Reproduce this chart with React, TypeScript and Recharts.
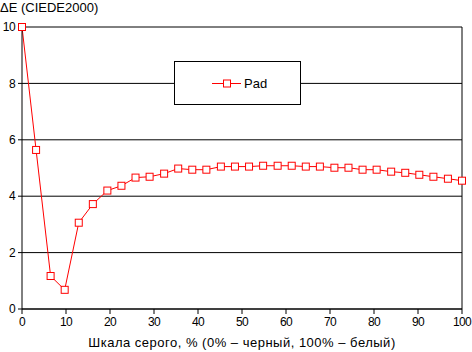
import React from "react";
import {
  LineChart,
  Line,
  XAxis,
  YAxis,
  CartesianGrid,
  ReferenceLine,
} from "recharts";

const grayLevels = [
  0, 3.2, 6.5, 9.7, 12.9, 16.1, 19.4, 22.6, 25.8, 29.0, 32.3, 35.5, 38.7, 41.9,
  45.2, 48.4, 51.6, 54.8, 58.1, 61.3, 64.5, 67.7, 71.0, 74.2, 77.4, 80.6, 83.9,
  87.1, 90.3, 93.5, 96.8, 100,
];

const padDeltaE = [
  10.0, 5.64, 1.17, 0.68, 3.06, 3.72, 4.2, 4.37, 4.66, 4.69, 4.8, 4.98, 4.94,
  4.94, 5.05, 5.05, 5.05, 5.08, 5.08, 5.08, 5.05, 5.05, 5.01, 5.01, 4.94, 4.94,
  4.87, 4.83, 4.76, 4.69, 4.62, 4.55,
];

const xTicks = [0, 10, 20, 30, 40, 50, 60, 70, 80, 90, 100];
const yTicks = [0, 2, 4, 6, 8, 10];

const seriesName = "Pad";
const yTitle = "ΔE (CIEDE2000)";
const xTitle = "Шкала серого, % (0% – черный, 100% – белый)";

const data = grayLevels.map((x, i) => ({ x, pad: padDeltaE[i] }));

const FONT = "'Liberation Sans', Arial, sans-serif";
const RED = "#ff0000";
const tickStyle = { fill: "#000", fontSize: 12, fontFamily: FONT, letterSpacing: -0.6 };

const SquareDot = (props: any) => {
  const { cx, cy, index } = props;
  if (cx == null || cy == null) return null;
  return (
    <rect
      key={index}
      x={cx - 3.5}
      y={cy - 3.5}
      width={7}
      height={7}
      fill="#fff"
      stroke={RED}
      strokeWidth={1}
    />
  );
};

// legend drawn as an overlay so it does not take space from the plot
const LegendBox = () => (
  <div
    style={{
      position: "absolute",
      left: 174,
      top: 61,
      width: 127,
      height: 44,
      boxSizing: "border-box",
      border: "1px solid #000",
      background: "#fff",
    }}
  >
    <svg width={125} height={42} style={{ position: "absolute", left: 0, top: 0 }}>
      <line x1={37} x2={66} y1={21.5} y2={21.5} stroke={RED} strokeWidth={1} />
      <rect x={48.5} y={18} width={7} height={7} fill="#fff" stroke={RED} strokeWidth={1} />
      <text x={69} y={26} fontFamily={FONT} fontSize={13} fill="#000">
        {seriesName}
      </text>
    </svg>
  </div>
);

export default function App() {
  return (
    <div
      style={{
        position: "absolute",
        left: 0,
        top: 0,
        width: 472,
        height: 352,
        background: "#fff",
        fontFamily: FONT,
      }}
    >
      <div
        style={{
          position: "absolute",
          left: 0,
          top: 0,
          fontSize: 13,
          lineHeight: "15px",
          color: "#000",
        }}
      >
        {yTitle}
      </div>
      <LineChart
        width={472}
        height={352}
        data={data}
        margin={{ top: 27, right: 10, bottom: 13, left: 0 }}
      >
        <CartesianGrid vertical={false} stroke="#000" strokeWidth={1} />
        <XAxis
          dataKey="x"
          type="number"
          domain={[0, 100]}
          ticks={xTicks}
          interval={0}
          height={30}
          stroke="#000"
          tickSize={5}
          tickMargin={3}
          tick={tickStyle}
          label={{
            value: xTitle,
            position: "insideBottom",
            offset: -8,
            fill: "#000",
            fontSize: 13,
            fontFamily: FONT,
            letterSpacing: 0.5,
          }}
        />
        <YAxis
          type="number"
          domain={[0, 10]}
          ticks={yTicks}
          interval={0}
          width={22}
          stroke="#000"
          tickSize={4}
          tickMargin={3}
          tick={tickStyle}
        />
        <ReferenceLine x={100} stroke="#000" strokeWidth={1} />
        <Line
          name={seriesName}
          dataKey="pad"
          stroke={RED}
          strokeWidth={1}
          dot={<SquareDot />}
          activeDot={false}
          isAnimationActive={false}
        />
      </LineChart>
      <LegendBox />
    </div>
  );
}
